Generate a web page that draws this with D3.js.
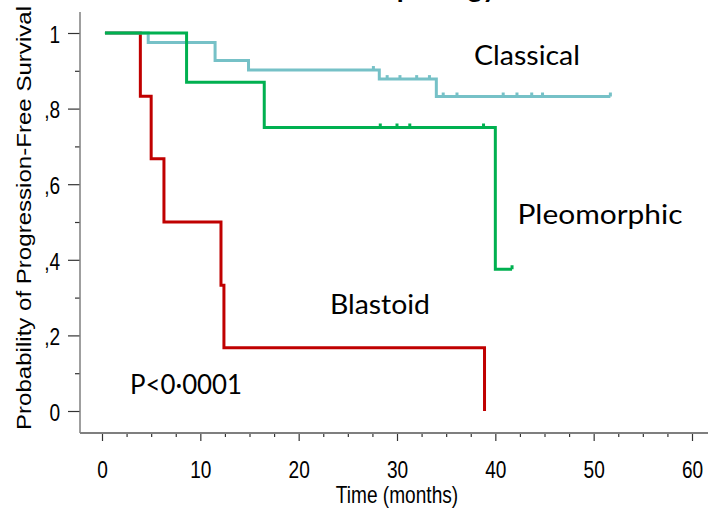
<!DOCTYPE html>
<html>
<head>
<meta charset="utf-8">
<script src="https://cdn.jsdelivr.net/npm/d3@7"></script>
<style>
  body { margin: 0; background: #fff; }
  svg { display: block; }
</style>
</head>
<body>
<div id="chart"></div>
<script>
// Kaplan-Meier curves: [time, survival after step]
var classicalSteps = [[0.3, 1], [4.7, 0.975], [11.5, 0.927], [14.9, 0.902], [28.2, 0.878], [34.0, 0.832], [51.7, 0.832]];
var classicalCensor = [27.6, 29.0, 30.3, 32.0, 33.3, 34.7, 36.1, 40.8, 42.2, 43.7, 44.8, 51.7];

var pleoSteps = [[0.3, 1], [8.6, 0.87], [16.5, 0.75], [40.0, 0.375], [41.7, 0.375]];
var pleoCensor = [28.3, 30.0, 31.3, 38.8, 41.7];

var blastSteps = [[0.3, 1], [3.9, 0.833], [5.0, 0.667], [6.3, 0.5], [12.1, 0.333], [12.4, 0.167], [38.9, 0]];
var blastCensor = [];

var xTicks = [0, 10, 20, 30, 40, 50, 60];
var yTicks = [0, 0.2, 0.4, 0.6, 0.8, 1];
var yTickLabels = ["0", ",2", ",4", ",6", ",8", "1"];

var series = [
  {name: "Blastoid", steps: blastSteps, censor: blastCensor, color: "#c00000"},
  {name: "Classical", steps: classicalSteps, censor: classicalCensor, color: "#76c1c7"},
  {name: "Pleomorphic", steps: pleoSteps, censor: pleoCensor, color: "#00b050"}
];

const W = 708, H = 512;
const svg = d3.select("#chart").append("svg")
  .attr("width", W).attr("height", H);

const x = d3.scaleLinear().domain([0, 60]).range([102, 692]);
const y = d3.scaleLinear().domain([0, 1]).range([411, 33]);

const axisColor = "#7f7f7f";
const tickFont = "'Liberation Sans', Arial, sans-serif";
const squash = 0.83; // the original text looks narrow, squeeze it sideways

// title, mostly cut off at the top
svg.append("text")
  .attr("x", 497).attr("y", -3)
  .attr("text-anchor", "end")
  .style("font-family", "Lato, sans-serif")
  .style("font-weight", "bold")
  .style("font-size", "28px")
  .text("Morphology");

// y axis
const yAxis = svg.append("g")
  .attr("transform", "translate(80,0)")
  .call(d3.axisLeft(y).tickValues(yTicks).tickSize(12).tickPadding(12)
    .tickFormat(function(d, i) { return yTickLabels[i]; }));
yAxis.select(".domain").remove();
yAxis.selectAll(".tick text").attr("dy", "0.4em");
svg.append("g")
  .attr("transform", "translate(80,0)")
  .call(d3.axisLeft(y).tickValues(d3.range(0.1, 1, 0.2)).tickSize(5).tickFormat(""))
  .select(".domain").remove();
svg.append("line")
  .attr("x1", 80).attr("x2", 80).attr("y1", 12).attr("y2", 433)
  .attr("stroke", axisColor).attr("stroke-width", 1.5);

// x axis
const xAxis = svg.append("g")
  .attr("transform", "translate(0,433)")
  .call(d3.axisBottom(x).tickValues(xTicks).tickSize(8).tickPadding(21));
xAxis.select(".domain").remove();
svg.append("g")
  .attr("transform", "translate(0,433)")
  .call(d3.axisBottom(x).tickValues(d3.range(0, 61, 2.5).filter(function(d) { return d % 10 !== 0; }))
    .tickSize(4).tickFormat(""))
  .select(".domain").remove();
svg.append("line")
  .attr("x1", 80).attr("x2", 708).attr("y1", 433).attr("y2", 433)
  .attr("stroke", axisColor).attr("stroke-width", 2);

svg.selectAll(".tick line").attr("stroke", "#333").attr("stroke-width", 1.2);
svg.selectAll(".tick text")
  .style("font-family", tickFont)
  .style("font-size", "23px")
  .attr("fill", "#000")
  .attr("transform", "scale(" + squash + ",1)");

// axis titles
svg.append("text")
  .attr("transform", "translate(31,218) scale(" + squash + ",1) rotate(-90)")
  .attr("text-anchor", "middle")
  .style("font-family", tickFont)
  .style("font-size", "24px")
  .attr("textLength", 424)
  .attr("lengthAdjust", "spacingAndGlyphs")
  .text("Probability of Progression-Free Survival");

svg.append("text")
  .attr("transform", "translate(397,503) scale(" + squash + ",1)")
  .attr("text-anchor", "middle")
  .style("font-family", tickFont)
  .style("font-size", "23px")
  .text("Time (months)");

// curves
const line = d3.line()
  .curve(d3.curveStepAfter)
  .x(function(d) { return x(d[0]); })
  .y(function(d) { return y(d[1]); });

function survAt(steps, t) {
  var s = steps[0][1];
  steps.forEach(function(d) { if (d[0] <= t) s = d[1]; });
  return s;
}

series.forEach(function(s) {
  svg.append("path")
    .datum(s.steps)
    .attr("fill", "none")
    .attr("stroke", s.color)
    .attr("stroke-width", 3)
    .attr("d", line);
  svg.selectAll(null)
    .data(s.censor)
    .enter().append("line")
    .attr("x1", function(t) { return x(t); })
    .attr("x2", function(t) { return x(t); })
    .attr("y1", function(t) { return y(survAt(s.steps, t)); })
    .attr("y2", function(t) { return y(survAt(s.steps, t)) - 4; })
    .attr("stroke", s.color)
    .attr("stroke-width", 3);
});

// labels
const labelFont = "Lato, 'Open Sans', sans-serif";
var labels = [
  {text: "Classical", x: 527, y: 65, w: 106},
  {text: "Pleomorphic", x: 600, y: 224, w: 165},
  {text: "Blastoid", x: 380, y: 314, w: 100},
  {text: "P<0\u00b70001", x: 186, y: 394, w: 112}
];
svg.selectAll(".lab")
  .data(labels)
  .enter().append("text")
  .attr("class", "lab")
  .attr("x", function(d) { return d.x; })
  .attr("y", function(d) { return d.y; })
  .attr("text-anchor", "middle")
  .attr("textLength", function(d) { return d.w; })
  .attr("lengthAdjust", "spacingAndGlyphs")
  .style("font-family", labelFont)
  .style("font-size", "27px")
  .text(function(d) { return d.text; });
</script>
</body>
</html>
